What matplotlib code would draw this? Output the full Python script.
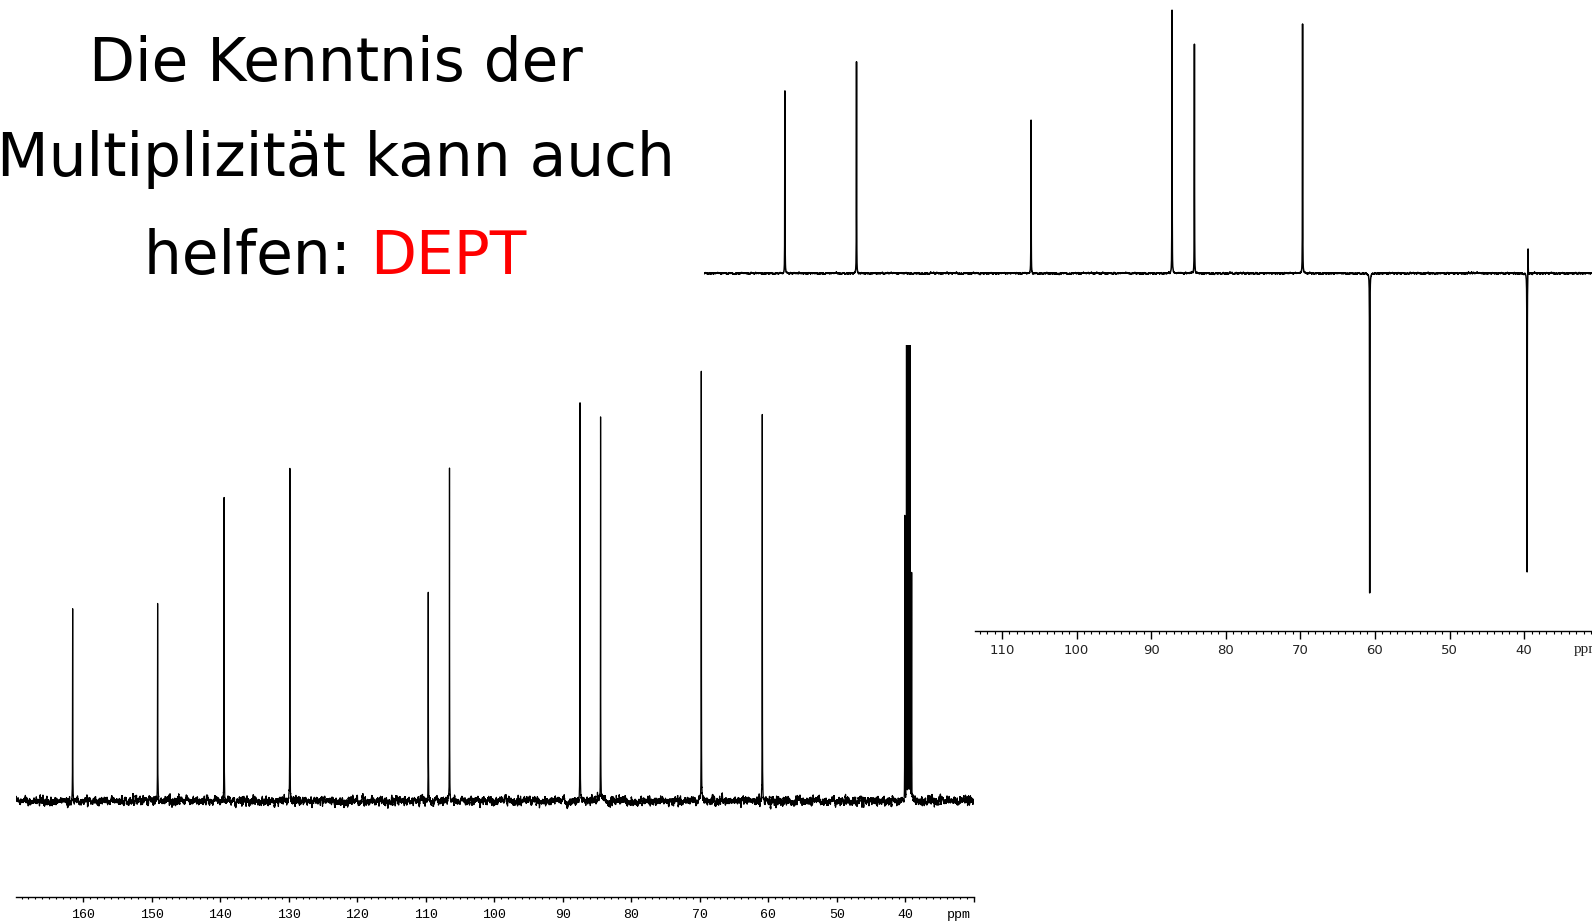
import numpy as np
import matplotlib
matplotlib.use("Agg")
import matplotlib.pyplot as plt

# 13C spectrum (broadband decoupled), peak positions in ppm and heights
c13_ppm = [161.55, 149.15, 139.45, 129.85, 109.65, 106.55, 87.5, 84.5, 69.8, 60.9]
c13_int = [194, 198, 303, 335, 211, 335, 398, 386, 432, 388]

# solvent multiplet (DMSO-d6)
dmso_ppm = [40.1, 39.85, 39.6, 39.35, 39.1]
dmso_int = [285, 600, 665, 600, 232]

# DEPT-135: CH up, CH2 down
dept_ppm = [139.1, 129.5, 106.1, 87.2, 84.2, 69.7, 60.7, 39.6, 39.47]
dept_int = [182, 212, 153, 263, 229, 251, -321, -300, 28]

title_lines = ["Die Kenntnis der", "Multiplizität kann auch"]
title_last = "helfen: "
title_red = "DEPT"

W, H = 1592, 921


def lorentz_sum(grid, centers, heights, hwhm):
    y = np.zeros_like(grid)
    for c, h in zip(centers, heights):
        y += h / (1.0 + ((grid - c) / hwhm) ** 2)
    return y


def smooth_noise(n, width, sigma, seed):
    rng = np.random.default_rng(seed)
    w = rng.normal(size=n)
    k = np.ones(width) / width
    s = np.convolve(w, k, mode="same")
    return s * sigma / s.std()


def px_axes(fig, left, top, right, bottom):
    # axes box given in pixel coordinates measured from the top-left corner
    ax = fig.add_axes([left / W, (H - bottom) / H, (right - left) / W, (bottom - top) / H])
    ax.patch.set_visible(False)
    return ax


fig = plt.figure(figsize=(W / 100, H / 100), dpi=100)
fig.patch.set_facecolor("white")

# ---- full 13C spectrum with its ppm ruler ----
ax1 = px_axes(fig, 16, 345, 974, 897.3)
x1 = np.arange(30.0, 169.85, 0.003)
y1 = lorentz_sum(x1, c13_ppm, c13_int, 0.015)
y1 += lorentz_sum(x1, dmso_ppm, dmso_int, 0.012)
y1 += smooth_noise(x1.size, 30, 2.1, 3)
ax1.plot(x1, y1, color="black", lw=0.9)
ax1.set_xlim(169.82, 30.03)
ax1.set_ylim(-96.3, 456)

for s in ["top", "left", "right"]:
    ax1.spines[s].set_visible(False)
ax1.spines["bottom"].set_linewidth(1.0)
ax1.set_yticks([])
maj1 = np.arange(30, 170, 10)
ax1.set_xticks(maj1)
ax1.set_xticklabels(["" if v == 30 else str(v) for v in maj1],
                    family="Liberation Mono", fontsize=9.5)
ax1.set_xticks(np.arange(31, 170, 1), minor=True)
ax1.tick_params(axis="x", which="major", length=3.8, width=1.0, pad=4.6)
ax1.tick_params(axis="x", which="minor", length=1.5, width=0.8)
ax1.annotate("ppm", xy=(34.0, 0), xycoords=ax1.get_xaxis_transform(),
             xytext=(0, -8.4), textcoords="offset points", va="top", ha="left",
             family="Liberation Mono", fontsize=9.5)

# ---- DEPT-135 spectrum, ruler drawn only under part of it ----
ax2 = px_axes(fig, 703.6, 0, W, 630.7)
x2 = np.arange(30.5, 150.1, 0.003)
y2 = lorentz_sum(x2, dept_ppm, dept_int, 0.015)
y2 += smooth_noise(x2.size, 45, 0.35, 11)
ax2.plot(x2, y2, color="black", lw=1.1)
ax2.set_xlim(150.0, 30.9)
ax2.set_ylim(-357.4, 273.3)

for s in ["top", "left", "right"]:
    ax2.spines[s].set_visible(False)
ax2.spines["bottom"].set_bounds(113.6, 30.9)
ax2.spines["bottom"].set_linewidth(1.0)
ax2.set_yticks([])
ax2.set_xticks(np.arange(40, 111, 10))
ax2.set_xticklabels([str(v) for v in np.arange(40, 111, 10)],
                    family="DejaVu Sans", fontsize=9.5, color="#222222")
ax2.set_xticks(np.arange(31, 114, 1), minor=True)
ax2.tick_params(axis="x", which="major", length=5.5, width=1.0, pad=4.2)
ax2.tick_params(axis="x", which="minor", length=2.0, width=0.8)
ax2.annotate("ppm", xy=(33.3, 0), xycoords=ax2.get_xaxis_transform(),
             xytext=(0, -9.2), textcoords="offset points", va="top", ha="left",
             family="Liberation Serif", fontsize=11, color="#222222")

# ---- heading ----
tfont = dict(family="DejaVu Sans", fontsize=43)
fig.text(336 / W, (H - 81) / H, title_lines[0], ha="center", va="baseline", **tfont)
fig.text(336 / W, (H - 176) / H, title_lines[1], ha="center", va="baseline", **tfont)
fig.text(370 / W, (H - 274) / H, title_last, ha="right", va="baseline", **tfont)
fig.text(370 / W, (H - 274) / H, title_red, ha="left", va="baseline", color="#ff0000", **tfont)

fig.savefig("out.png", dpi=100)
